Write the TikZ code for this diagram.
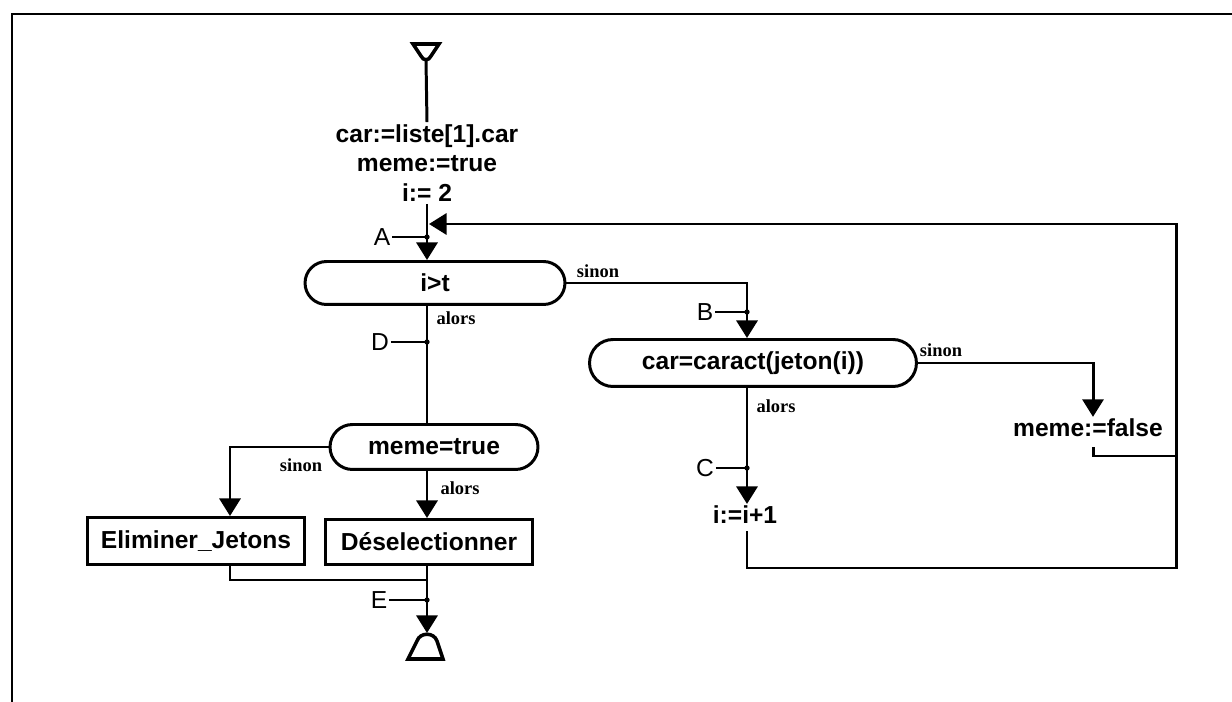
\documentclass[tikz,border=0pt]{standalone}
\usepackage{fontspec}
\setmainfont{Liberation Sans}
\newfontfamily\lblfont{Liberation Serif}
\usetikzlibrary{arrows.meta,shapes.misc}
\begin{document}
\begin{tikzpicture}[x=0.02cm,y=-0.02cm,
  flow/.style={line width=1.7pt},
  arr/.style={flow,-{Triangle[width=12pt,length=10pt]}},
  term/.style={rounded rectangle,draw,line width=1.7pt,inner sep=0pt,
    font=\bfseries\fontsize{14}{16}\selectfont},
  box/.style={rectangle,draw,line width=1.7pt,inner sep=0pt,
    font=\bfseries\fontsize{14}{16}\selectfont},
  txt/.style={font=\bfseries\fontsize{14}{17}\selectfont,align=center,inner sep=1pt},
  br/.style={font=\lblfont\bfseries\fontsize{10.5}{12}\selectfont,inner sep=1pt},
  tk/.style={font=\fontsize{14}{16}\selectfont,inner sep=1pt},
  tickline/.style={line width=0.8pt},
  dot/.style={circle,fill,inner sep=0pt,minimum size=3pt},
  sym/.style={line width=2pt}]
\useasboundingbox (0,0) rectangle (1232,702);
% frame
\draw[line width=1.3pt] (12,702) -- (12,14) -- (1232,14);

% column coordinates
\coordinate (colM) at (427,0);
\coordinate (colB) at (747,0);
\coordinate (colF) at (1093,0);
\coordinate (colR) at (1176,0);
\coordinate (colE) at (230,0);

% start symbol
\coordinate (start) at (426,60);
\draw[sym] (413,44) -- (439,44) -- (431,56) .. controls (429,61) and (423,61) .. (421,56) -- cycle;

% nodes
\node[txt] (init) at (427,163) {car:=liste[1].car\\meme:=true\\i:= 2};
\node[term,minimum width=5.2cm,minimum height=0.86cm] (itt) at (435,283) {i>t};
\node[term,minimum width=6.54cm,minimum height=0.94cm] (tt2) at (753,363) {car=caract(jeton(i))};
\node[txt] (mf) at (1088,428) {meme:=false};
\node[txt] (inc) at (745,515) {i:=i+1};
\node[term,minimum width=4.16cm,minimum height=0.9cm] (mt) at (434,447) {meme=true};
\node[box,minimum width=4.36cm,minimum height=0.94cm] (elim) at (196,541) {Eliminer\_Jetons};
\node[box,minimum width=4.16cm,minimum height=0.9cm] (desel) at (429,542) {Déselectionner};
\coordinate (endsym) at (427,633);
\draw[sym] (408,659) -- (443,659) -- (437,641) .. controls (434,632) and (420,632) .. (417,641) -- cycle;

% connectors
\draw[flow] (start) -- (init.north -| colM);
\draw[arr] (init.south -| colM) -- (itt.north -| colM);
\draw[arr] (itt.east) -| (tt2.north -| colB);
\draw[arr] (tt2.south -| colB) -- (inc.north -| colB);
\draw[arr] (tt2.east) -| (mf.north -| colF);
\draw[flow] (itt.south -| colM) -- (mt.north -| colM);
\draw[arr] (mt.west) -| (elim.north -| colE);
\draw[arr] (mt.south -| colM) -- (desel.north -| colM);
\coordinate (merge) at (427,580);
\draw[flow] (elim.south -| colE) |- (merge);
\draw[arr] (desel.south -| colM) -- (endsym);

% loop back
\coordinate (loopjoin) at (429,224);
\coordinate (loopBR) at (1176,568);
\coordinate (loopTR) at (1176,224);
\draw[arr] ([yshift=-0.1cm]inc.south -| colB) |- (loopBR) -- (loopTR) -- (loopjoin);
\coordinate (mfR) at (1176,456);
\draw[flow] ([yshift=-0.16cm]mf.south -| colF) |- (mfR);

% branch labels
\node[br] (s1) at (598,271) {sinon};
\node[br] (a1) at (456,318) {alors};
\node[br] (s2) at (941,350) {sinon};
\node[br] (a2) at (776,406) {alors};
\node[br] (s3) at (301,465) {sinon};
\node[br] (a3) at (460,488) {alors};

% tick labels
\node[tk] (A) at (382,237) {A};
\draw[tickline] (A.east) -- (A.east -| colM) node[dot] {};
\node[tk] (B) at (705,312) {B};
\draw[tickline] (B.east) -- (B.east -| colB) node[dot] {};
\node[tk] (C) at (705,468) {C};
\draw[tickline] (C.east) -- (C.east -| colB) node[dot] {};
\node[tk] (D) at (380,342) {D};
\draw[tickline] (D.east) -- (D.east -| colM) node[dot] {};
\node[tk] (E) at (379,600) {E};
\draw[tickline] (E.east) -- (E.east -| colM) node[dot] {};
\end{tikzpicture}
\end{document}
